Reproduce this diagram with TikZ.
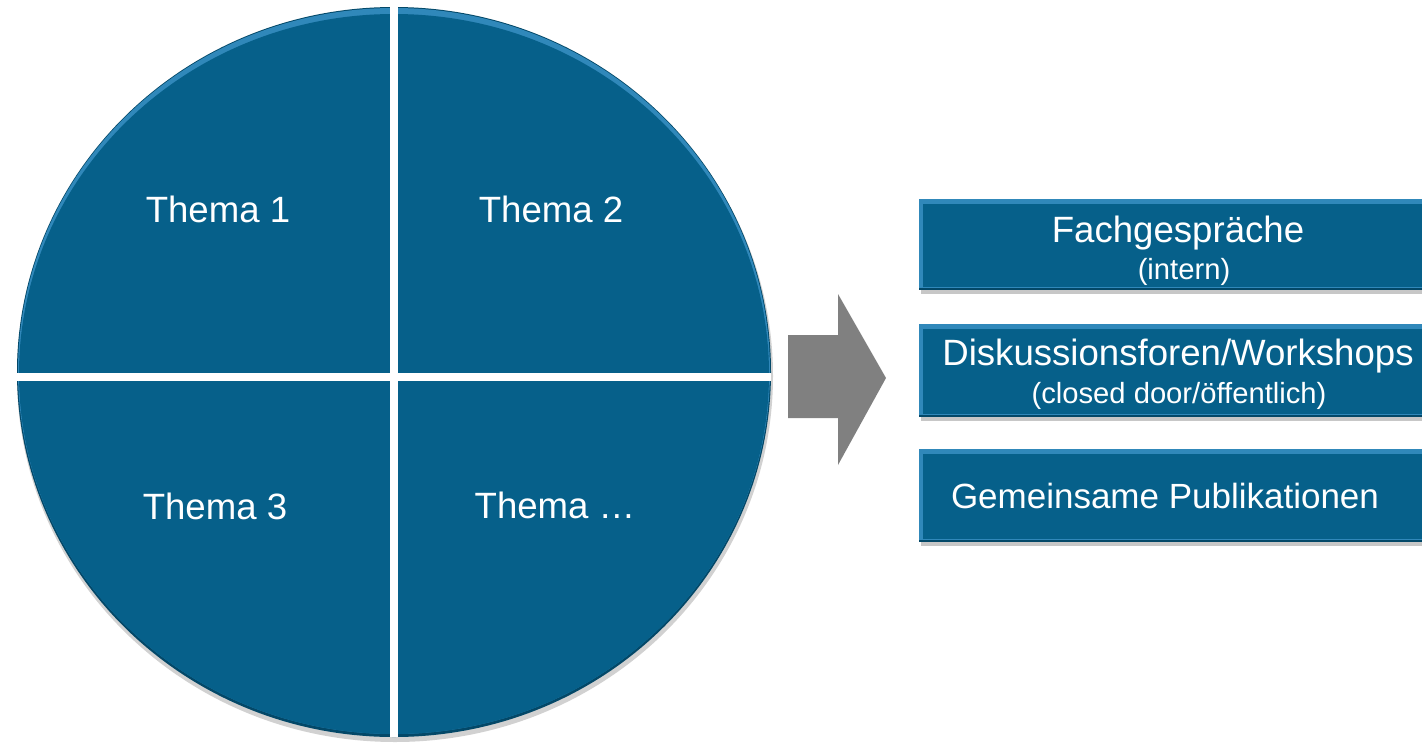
\documentclass[tikz,border=0pt]{standalone}
\usepackage{fontspec}
\setmainfont{Liberation Sans}
\definecolor{mainblue}{HTML}{06608A}
\definecolor{lightblue}{HTML}{3088BA}
\definecolor{darkblue}{HTML}{034868}
\definecolor{arrowgray}{HTML}{808080}
\newcommand\mybox[2]{%
  \fill[black,opacity=0.22] (921,#1+3) rectangle (1437,#2+4);
  \fill[darkblue] (919,#1) rectangle (1437,#2);
  \fill[lightblue] (919,#1) rectangle (1437,#2-2);
  \fill[mainblue] (923,#1+5) rectangle (1437,#2-3);
}
\begin{document}
\begin{tikzpicture}[x=1pt,y=-1pt,
  txt/.style={text=white, inner sep=0pt, anchor=base, font=\fontsize{36.6}{43}\selectfont},
  sub/.style={txt, font=\fontsize{29.2}{34}\selectfont}]
\useasboundingbox (0,0) rectangle (1422,745);
% circle
\fill[black, opacity=0.18] (395,376) ellipse [x radius=378, y radius=366];
\fill[darkblue] (394,372) ellipse [x radius=377, y radius=365];
\fill[lightblue] (394,371) ellipse [x radius=376, y radius=363];
\fill[mainblue] (394,374) ellipse [x radius=375, y radius=360];
\begin{scope}
  \clip (394,372) ellipse [x radius=377, y radius=365];
  \draw[white, line width=8pt] (394,0) -- (394,745);
  \draw[white, line width=8pt] (0,377) -- (800,377);
\end{scope}
% arrow
\fill[arrowgray] (788,335) -- (838,335) -- (838,294) -- (886,378) -- (838,465) -- (838,418) -- (788,418) -- cycle;
% boxes
\mybox{199}{290}
\mybox{324}{417}
\mybox{449}{542}
% texts
\node[txt] (t1) at (218,222) {Thema 1};
\node[txt] (t2) at (551,222) {Thema 2};
\node[txt] (t3) at (215,519) {Thema 3};
\node[txt] (t4) at (555,518) {Thema …};
\node[txt] (f1) at (1178,242) {Fachgespräche};
\node[sub] (f2) at (1184,279) {(intern)};
\node[txt] (d1) at (1178,365) {Diskussionsforen/Workshops};
\node[sub] (d2) at (1179,403) {(closed door/öffentlich)};
\node[txt, font=\fontsize{35}{42}\selectfont] (g1) at (1165,508) {Gemeinsame Publikationen};
\end{tikzpicture}
\end{document}
